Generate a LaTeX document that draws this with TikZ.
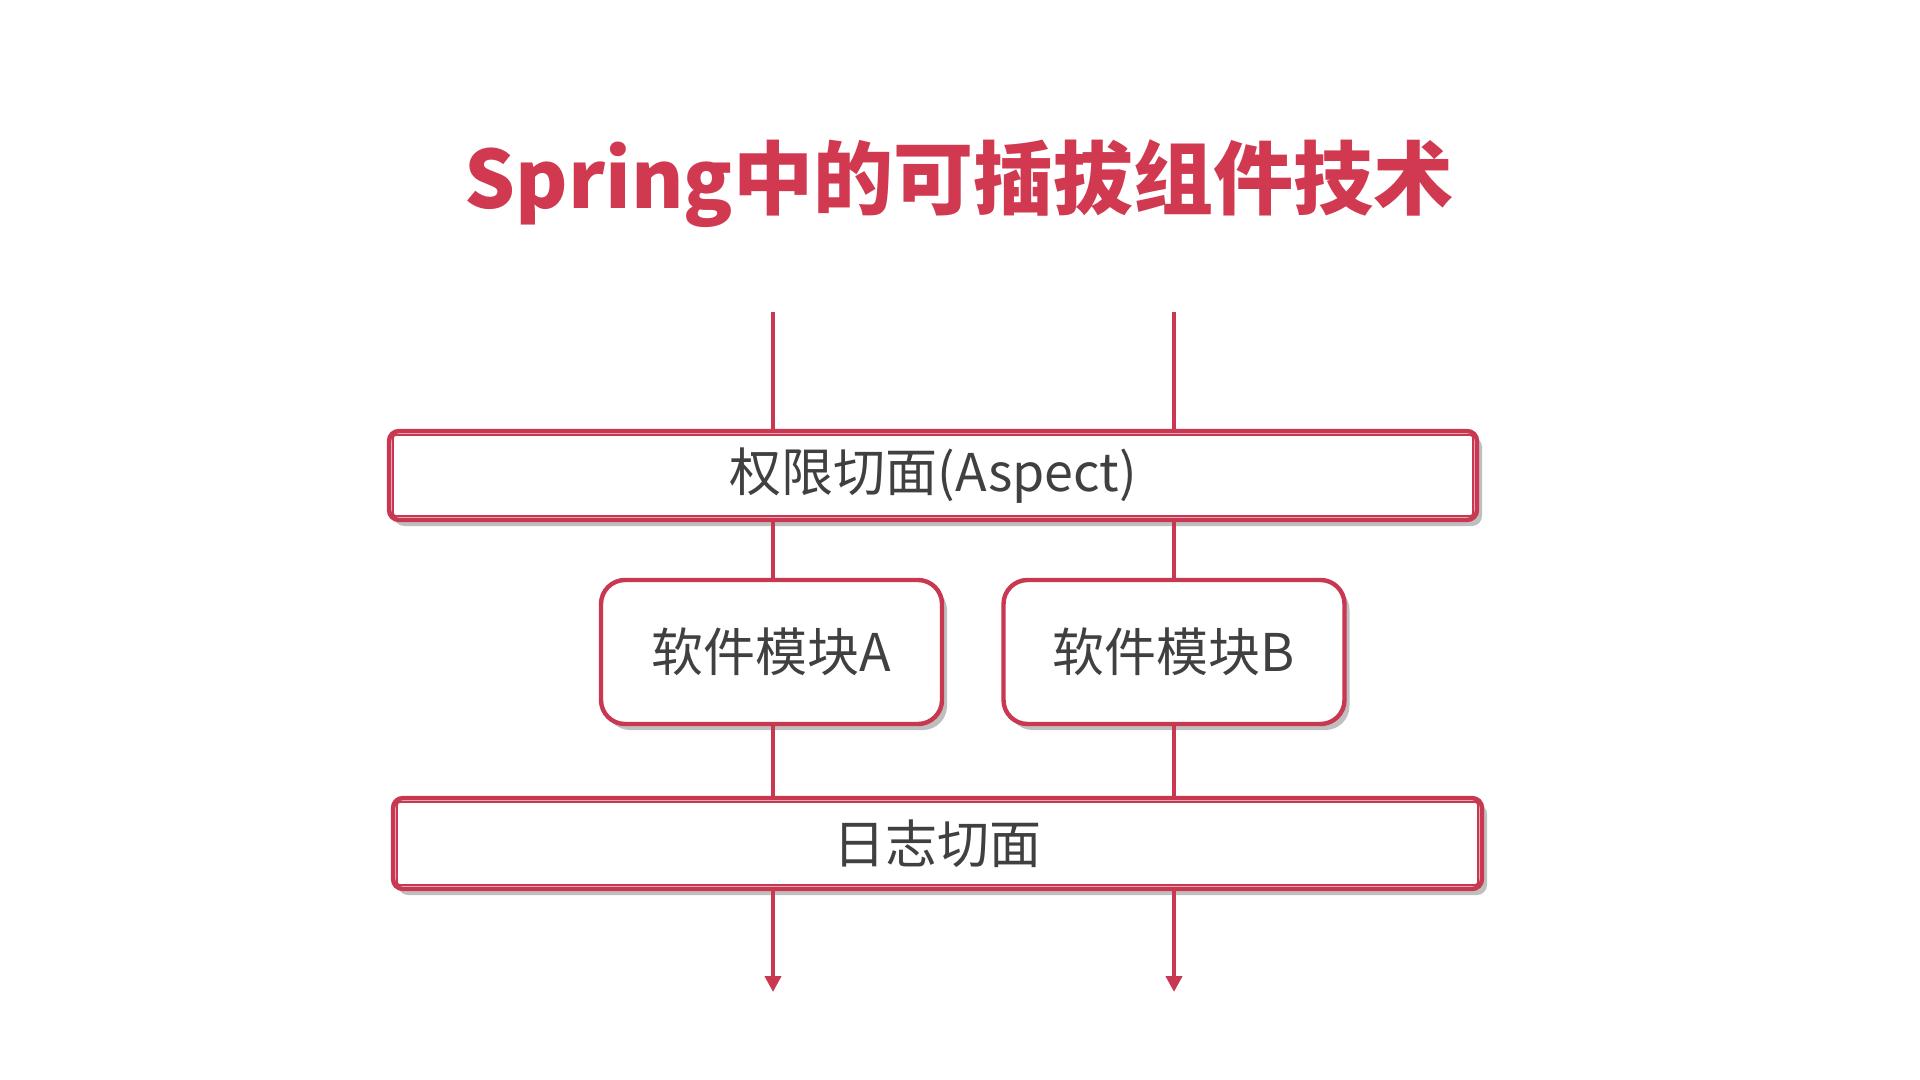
\documentclass[tikz,border=0pt]{standalone}
\usepackage{fontspec}
\setmainfont{Noto Sans CJK SC}
\usetikzlibrary{shadows,arrows.meta}
\definecolor{springred}{RGB}{208,57,79}
\definecolor{boxred}{RGB}{200,56,80}
\definecolor{txtgray}{RGB}{64,64,64}
\tikzset{
  band/.style={draw=boxred, line width=2.2pt, fill=white, rounded corners=5pt,
    drop shadow={shadow xshift=2.5pt, shadow yshift=-3pt, fill=black, opacity=0.25},
    text=txtgray, font=\fontsize{26pt}{30pt}\selectfont, inner sep=0pt},
  modbox/.style={draw=boxred, line width=2.2pt, fill=white, rounded corners=12pt,
    drop shadow={shadow xshift=2.5pt, shadow yshift=-3pt, fill=black, opacity=0.25},
    text=txtgray, font=\fontsize{26pt}{30pt}\selectfont, inner sep=0pt,
    minimum width=170.5pt, minimum height=72pt},
  innerline/.style={draw=boxred, line width=1.1pt, rounded corners=1.5pt},
  flow/.style={draw=boxred, line width=2pt},
  flowend/.style={flow, -{Triangle[length=8pt,width=8pt]}},
  lbl/.style={text=txtgray, font=\fontsize{26pt}{30pt}\selectfont}
}
\begin{document}
\begin{tikzpicture}[x=0.5pt,y=-0.5pt]
\useasboundingbox (0,0) rectangle (1920,1080);
\fill[white] (0,0) rectangle (1920,1080);
% title
\node[text=springred, font=\fontsize{40pt}{46pt}\selectfont\bfseries] (title) at (959,184) {Spring中的可插拔组件技术};
% start and end coordinates
\coordinate (sA) at (773,312);
\coordinate (sB) at (1174,312);
\coordinate (eA) at (773,992);
\coordinate (eB) at (1174,992);
% boxes
\node[band, minimum width=544pt, minimum height=44.5pt] (auth) at (933,475.5) {};
\node[band, minimum width=544.5pt, minimum height=45.5pt] (log) at (937.5,843.5) {};
\node[modbox] (modA) at (771.5,652) {};
\node[modbox] (modB) at (1174,652) {};
% connectors
\draw[flow] (sA) -- (sA |- auth.north);
\draw[flow] (sB) -- (sB |- auth.north);
\draw[flow] (sA |- auth.south) -- (sA |- modA.north);
\draw[flow] (sB |- auth.south) -- (sB |- modB.north);
\draw[flow] (sA |- modA.south) -- (sA |- log.north);
\draw[flow] (sB |- modB.south) -- (sB |- log.north);
\draw[flowend] (sA |- log.south) -- (eA);
\draw[flowend] (sB |- log.south) -- (eB);
% inner lines of the bands
\draw[innerline] ([xshift=3pt,yshift=-3pt]auth.north west) rectangle ([xshift=-3pt,yshift=3pt]auth.south east);
\draw[innerline] ([xshift=3pt,yshift=-3pt]log.north west) rectangle ([xshift=-3pt,yshift=3pt]log.south east);
% labels
\node[lbl] (authlbl) at (auth.center) {权限切面(Aspect)};
\node[lbl] (loglbl) at (log.center) {日志切面};
\node[lbl] (modAlbl) at (modA.center) {软件模块A};
\node[lbl] (modBlbl) at (modB.center) {软件模块B};
\end{tikzpicture}
\end{document}
